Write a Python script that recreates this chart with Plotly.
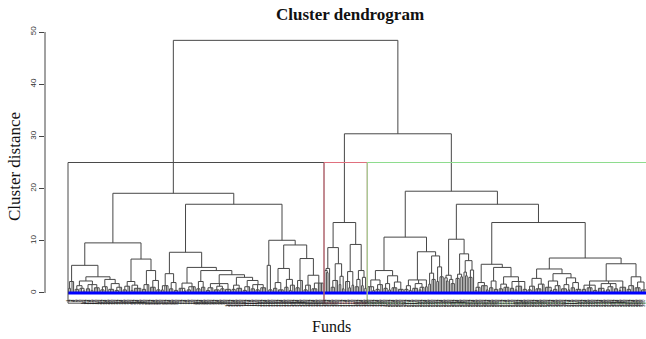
import plotly.graph_objects as go

# ---------------- data: dendrogram of funds ----------------
# notation: [merge_height, child, child, ...]; an integer child k = k single funds
B1A_L = [2.2, [0.9, 2], 2]
B1A_RL = [2.3, [1.4, [0.7, 3], [0.9, 2, [0.4, 2]]], [1.6, [0.8, 3], [0.5, 2], [1.0, 2, 2]]]
B1A_RR = [2.6, [1.2, [0.6, 3], 2], [1.8, [0.7, 2, 2], [1.1, [0.5, 3], 2]]]
B1B_L = [2.2, [1.3, [0.6, 3], 2], [1.5, [0.5, 2], [0.9, 2, 3]]]
B1B_R = [4.3, [1.6, [0.7, 3], 2], [2.4, [1.1, 2, 2], [0.6, 3]]]
B2A_L = [3.7, [1.4, [0.6, 2], 3], [2.0, [0.8, 3], [0.5, 3]]]
B2A_X1 = [1.9, [0.9, 3, [0.4, 2]], [1.2, [0.6, 3], 3]]
B2A_X2 = [2.2, [0.8, 3], [1.1, 3]]
B2A_X3 = [1.8, [1.0, [0.5, 3], 2], [1.3, [0.6, 2, 2], [0.8, 3]], [0.7, 4]]
B2A_Y3 = [3.0, [1.5, [0.7, 3], [0.9, 2, 2]],
          [2.4, [1.2, [0.5, 3], 2], [1.6, [0.8, 3], [0.6, 3], [1.0, 2, 2]]]]
B2B_L = [5.3, 1, [0.6, 3]]
B2B_P = [4.7, [2.0, [0.9, 3], [0.6, 2, 2]], [2.6, [1.1, 3], [1.5, [0.5, 2], 2]]]
B2B_Q = [6.6, [2.4, [1.0, 3], 2], [3.4, [1.5, [0.6, 3], 2], [1.9, [0.8, 2, 2], 4]]]

B1A = [5.3, B1A_L, [3.1, B1A_RL, B1A_RR]]
B1B = [6.5, B1B_L, B1B_R]
B1 = [9.6, B1A, B1B]
B2A = [7.8, B2A_L, [4.9, B2A_X1, [4.3, B2A_X2, [3.5, B2A_X3, B2A_Y3]]]]
B2B = [10.1, B2B_L, [9.2, B2B_P, B2B_Q]]
B2 = [17.0, B2A, B2B]
BLACK = [19.1, B1, B2]

R1 = [8.7, [4.7, [4.3, 1, [3.9, 1, 1]], 1], [5.6, [2.4, [1.1, 3], 2], [3.2, [1.6, 2], [0.8, 2]]]]
R2 = [9.3, [4.1, [2.2, 2, [1.0, 2]], [1.5, 2]], [4.3, [2.6, [1.2, 3], 1], [3.0, [1.4, 2], [0.9, 2]]]]
RED = [13.5, R1, R2]

G1_L = [4.3, [2.5, [1.2, 3, [0.5, 2]], [1.6, [0.7, 3], 2]],
        [3.3, [1.8, [0.9, 3], [0.6, 2]], [2.1, [1.0, 2, 2], [0.7, 4]]]]
G1_A = [2.5, [1.4, [0.7, 3], [0.5, 2]], [1.8, [0.9, 2, 2], [1.1, [0.6, 2], 2]], [1.2, 2]]
G1_B = [7.1, [3.8, [1.7, 2], [2.6, 1, 2]], [5.0, [2.2, 2], [3.1, 1, 2]]]
G1 = [10.7, G1_L, [7.9, G1_A, G1_B]]
G2A = [10.3, [3.4, [2.9, 1, [2.3, 1, 1]], [2.6, 1, [1.8, 3]]],
       [7.5, [3.6, [2.8, 3], [3.1, 1, 1]], [6.2, [4.0, 1, [3.3, 2]], [4.4, [3.0, 3], 1]]]]
G2B_L = [5.5, [2.0, [1.1, [0.5, 2], 2], [1.4, 3, [0.6, 2]]],
         [4.9, [2.3, [1.0, 3], [0.7, 3]],
          [3.1, [1.7, [0.8, 3], [1.1, 2, 2]], [2.2, [0.9, 3], [1.3, [0.6, 2], 3], [0.7, 3]]]]]
G2B_C1 = [2.8, [1.3, [0.6, 3], 2], [1.7, [0.8, 2, 2], 2]]
G2B_C2 = [3.7, [2.3, [1.1, 3, [0.5, 2]], [1.4, [0.7, 3], 2]],
          [2.9, [1.6, [0.8, 2, 2], [0.6, 2]], [2.0, [1.0, 3], [0.7, 2, 2]]]]
G2B_D1 = [2.3, [1.5, [0.7, 3], [1.0, 2, 2], [0.5, 3]],
          [1.8, [0.9, 3, [0.4, 2]], [1.2, [0.6, 3], 2], [0.8, 3]], [1.1, [0.5, 2], 3]]
G2B_D2 = [3.1, [1.4, [0.7, 3], 2], [2.1, [1.0, 2, 2], [0.6, 4]]]
G2B = [13.5, G2B_L, [6.7, [4.6, G2B_C1, G2B_C2], [5.6, G2B_D1, G2B_D2]]]
G2 = [17.0, G2A, G2B]
GREEN = [19.5, G1, G2]

RG = [30.5, RED, GREEN]
ROOT = [48.4, BLACK, RG]

Y_TICKS = [0, 10, 20, 30, 40, 50]
CLUSTERS = [BLACK, RED, GREEN]
RECT_COLORS = ["#4a4a4a", "#e0707e", "#8edc8e"]


def count(node):
    n = 0
    for ch in node[1:]:
        n += ch if isinstance(ch, int) else count(ch)
    return n


N = count(ROOT)
LEAF_LABELS = [str(i + 1) for i in range(N)]

segx, segy = [], []
counter = [0]


def place(node):
    h = node[0]
    pts = []
    for ch in node[1:]:
        if isinstance(ch, int):
            for _ in range(ch):
                pts.append((counter[0], 0.0))
                counter[0] += 1
        else:
            pts.append(place(ch))
    xs = [p[0] for p in pts]
    for cx, chh in pts:
        segx.extend([cx, cx, None])
        segy.extend([chh, h, None])
    segx.extend([min(xs), max(xs), None])
    segy.extend([h, h, None])
    return ((xs[0] + xs[-1]) / 2.0, h)


place(ROOT)

fig = go.Figure()
fig.add_trace(go.Scatter(x=segx, y=segy, mode="lines",
                         line=dict(color="#474747", width=1), hoverinfo="skip",
                         showlegend=False))
# baseline at zero
fig.add_trace(go.Scatter(x=[-0.5, N - 0.5], y=[0, 0], mode="lines",
                         line=dict(color="#0000ff", width=3), hoverinfo="skip",
                         showlegend=False))
# cluster rectangles (cut height midway between the two top merges)
CUT = (GREEN[0] + RG[0]) / 2.0
RECT_BOTTOM = -1.95
start = 0
for cl, col in zip(CLUSTERS, RECT_COLORS):
    n = count(cl)
    a, b = start - 0.5, start + n - 0.5
    fig.add_trace(go.Scatter(x=[a, a, b, b, a], y=[RECT_BOTTOM, CUT, CUT, RECT_BOTTOM, RECT_BOTTOM],
                             mode="lines", line=dict(color=col, width=1),
                             hoverinfo="skip", showlegend=False))
    start += n

PPL = 1.6
x0 = -(68.8 - 45) / PPL
fig.update_layout(
    width=646, height=339,
    margin=dict(l=45, r=0, t=32, b=34),
    paper_bgcolor="white", plot_bgcolor="white",
    title=dict(text="<b>Cluster dendrogram</b>", x=350 / 646, xref="container",
               y=1 - 14 / 339, yref="container", xanchor="center", yanchor="middle",
               font=dict(family="Liberation Serif", size=17, color="#111")),
    xaxis=dict(range=[x0, x0 + 601 / PPL], showgrid=False, zeroline=False,
               showline=False, ticks="", tickmode="array",
               tickvals=list(range(N)), ticktext=LEAF_LABELS, tickangle=-90,
               tickfont=dict(family="Liberation Sans", size=4.5, color="#222"),
               anchor="free", position=(305 - 297.5) / 273),
    yaxis=dict(range=[-2.3, 50], showgrid=False, zeroline=False, showline=False,
               tickmode="array", tickvals=Y_TICKS, ticks="outside", ticklen=5,
               tickcolor="#444", tickangle=-90,
               tickfont=dict(family="Liberation Sans", size=8, color="#333")),
    shapes=[dict(type="line", xref="paper", x0=0, x1=0, yref="y", y0=0, y1=50,
                 line=dict(color="#444", width=1))],
    annotations=[
        dict(text="Cluster distance", xref="paper", yref="paper",
             x=(14 - 45) / 601, y=(305 - 167) / 273, textangle=-90,
             showarrow=False, xanchor="center", yanchor="middle",
             font=dict(family="Liberation Serif", size=17, color="#111")),
        dict(text="Funds", xref="paper", yref="paper",
             x=(331 - 45) / 601, y=(305 - 326) / 273, showarrow=False,
             xanchor="center", yanchor="middle",
             font=dict(family="Liberation Serif", size=16, color="#111")),
    ],
)
fig.write_html("out.html")
